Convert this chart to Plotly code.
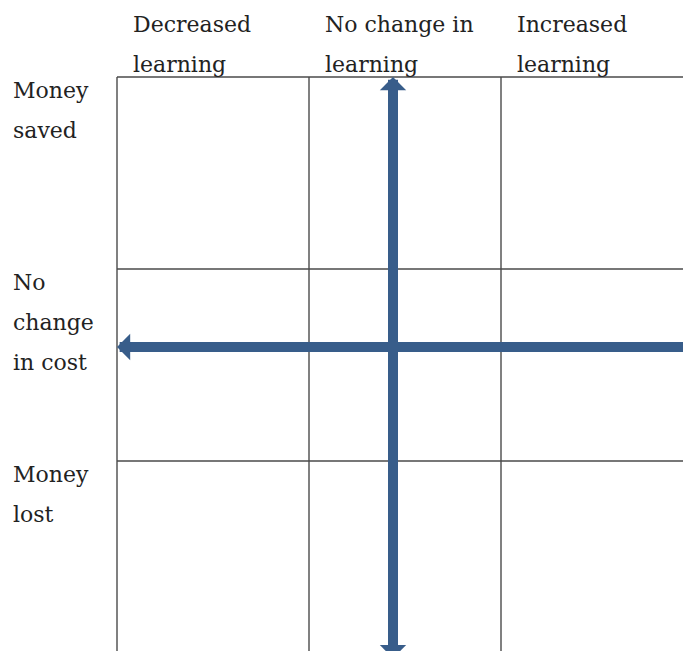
import plotly.graph_objects as go

# ---- diagram content ----
col_labels = [["Decreased", "learning"], ["No change in", "learning"], ["Increased", "learning"]]
row_labels = [["Money", "saved"], ["No", "change", "in cost"], ["Money", "lost"]]
n_cols = 3
n_rows = 3
# arrow crossing point (in grid units: columns across, rows up from the bottom)
cross_x = 1.4375
cross_y = 1.594
arrow_overshoot = 0.035   # the vertical arrow runs slightly past the bottom of the grid

# ---- styling / layout ----
W, H = 683, 651
CELL = 192          # px per grid unit
LEFT = 117          # px of grid left edge
TOP = 77            # px of grid top edge
FONT = dict(family="DejaVu Serif", size=22, color="#222222")
GRID_COLOR = "#4a4a4a"
ARROW_COLOR = "#385D8A"

x0 = -LEFT / CELL
x1 = (W - LEFT) / CELL
yr0 = n_rows - (H - TOP) / CELL
yr1 = n_rows + TOP / CELL

fig = go.Figure()
fig.add_trace(go.Scatter(x=[], y=[], showlegend=False))

shapes = []
# vertical grid lines
for c in range(n_cols):
    shapes.append(dict(type="line", xref="x", yref="y", x0=c, x1=c, y0=0, y1=n_rows,
                       line=dict(color=GRID_COLOR, width=1.4)))
# horizontal grid lines
for r in range(n_rows):
    shapes.append(dict(type="line", xref="x", yref="y", x0=0, x1=n_cols, y0=n_rows - r, y1=n_rows - r,
                       line=dict(color=GRID_COLOR, width=1.4)))

annotations = []
# column headers
for c, lines in enumerate(col_labels):
    n = len(lines)
    for i, t in enumerate(lines):
        annotations.append(dict(x=c, y=n_rows, xref="x", yref="y", text=t, showarrow=False,
                                xanchor="left", yanchor="middle", xshift=14,
                                yshift=13 + 40 * (n - 1 - i), font=FONT))
# row labels
for r, lines in enumerate(row_labels):
    for i, t in enumerate(lines):
        annotations.append(dict(x=0, y=n_rows - r, xref="paper", yref="y", text=t, showarrow=False,
                                xanchor="left", yanchor="middle", xshift=11,
                                yshift=-(13 + 40 * i), font=FONT))

# vertical double-headed arrow
annotations.append(dict(x=cross_x, y=n_rows, ax=cross_x, ay=-arrow_overshoot,
                        xref="x", yref="y", axref="x", ayref="y",
                        text="", showarrow=True, arrowhead=1, startarrowhead=1, arrowside="end+start",
                        arrowwidth=10, arrowsize=0.44, startarrowsize=0.44, arrowcolor=ARROW_COLOR))
# horizontal arrow pointing left
annotations.append(dict(x=0, y=cross_y, ax=n_cols, ay=cross_y, xref="x", yref="y", axref="x", ayref="y",
                        text="", showarrow=True, arrowhead=1, arrowwidth=10, arrowsize=0.44,
                        arrowcolor=ARROW_COLOR))

fig.update_layout(
    width=W, height=H,
    margin=dict(l=0, r=0, t=0, b=0),
    paper_bgcolor="white", plot_bgcolor="white",
    xaxis=dict(range=[x0, x1], visible=False, fixedrange=True),
    yaxis=dict(range=[yr0, yr1], visible=False, fixedrange=True),
    shapes=shapes, annotations=annotations, showlegend=False,
)

fig.write_html("out.html", config={"displayModeBar": False},
               post_script="document.body.style.margin='0';document.body.style.overflow='hidden';")
